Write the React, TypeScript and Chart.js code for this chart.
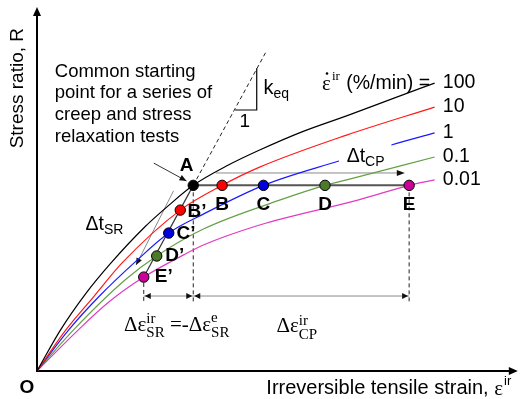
import { useEffect, useRef } from "react";
import { Chart, registerables } from "chart.js";

Chart.register(...registerables);

// Irreversible strain (arbitrary units, 0-100) and stress ratio R along each constant-rate curve
const strainRates = ["100", "10", "1", "0.1", "0.01"];
const rate100 = [[0, 0], [4.9, 0.113], [10.1, 0.212], [15.4, 0.297], [22.2, 0.393], [27.4, 0.455], [32.5, 0.51], [39.7, 0.565], [46.3, 0.607], [55.1, 0.657], [64.8, 0.703], [73.7, 0.747], [82.7, 0.791]];
const rate10 = [[0, 0], [6.0, 0.113], [11.9, 0.206], [17.7, 0.297], [29.8, 0.442], [38.5, 0.51], [46.3, 0.56], [64.4, 0.648], [82.7, 0.725]];
const rate1 = [[0, 0], [6.6, 0.113], [13.0, 0.206], [20.2, 0.297], [27.4, 0.379], [34.6, 0.431], [47.1, 0.51], [62.8, 0.577], [73.7, 0.621], [82.7, 0.654]];
const rate01 = [[0, 0], [7.6, 0.113], [18.3, 0.25], [24.9, 0.316], [34.6, 0.39], [50.6, 0.47], [59.9, 0.51], [64.4, 0.525], [82.7, 0.588]];
const rate001 = [[0, 0], [8.6, 0.113], [15.0, 0.19], [22.2, 0.258], [30.5, 0.319], [34.6, 0.346], [46.3, 0.401], [66.9, 0.47], [77.4, 0.51], [82.7, 0.525]];
const rateCurves = [rate100, rate10, rate1, rate01, rate001];
const curveColors = ["#000000", "#ff1a1a", "#1a1aff", "#63a046", "#e03cc0"];

// Test states: A = common start, B..E = end of creep, B'..E' = end of relaxation
const stateNames = ["A", "B", "C", "D", "E", "B'", "C'", "D'", "E'"];
const stateStrain = [32.5, 38.5, 47.1, 59.9, 77.4, 29.8, 27.4, 24.9, 22.2];
const stateR = [0.51, 0.51, 0.51, 0.51, 0.51, 0.442, 0.379, 0.316, 0.258];
const stateColors = ["#000000", "#ff0000", "#0000dd", "#4a7a2a", "#cc0099", "#ff0000", "#0000dd", "#4a7a2a", "#cc0099"];

// Creep path A -> E and relaxation path E' -> A
const creepPath = [[32.5, 0.51], [77.4, 0.51]];
const relaxPath = [[22.2, 0.258], [32.5, 0.51]];
// Equivalent elastic line through A (slope k_eq)
const keqLine = [[32.5, 0.51], [47.6, 0.876]];

const SANS = "'Liberation Sans', Arial, sans-serif";
const SERIF = "'Liberation Serif', 'Times New Roman', serif";

const toPts = (a: number[][]) => a.map(([x, y]) => ({ x, y }));

function arrowHead(ctx: CanvasRenderingContext2D, x1: number, y1: number, x2: number, y2: number, len = 7, half = 3) {
  const a = Math.atan2(y2 - y1, x2 - x1);
  const c = Math.cos(a), s = Math.sin(a);
  ctx.beginPath();
  ctx.moveTo(x2, y2);
  ctx.lineTo(x2 - len * c + half * s, y2 - len * s - half * c);
  ctx.lineTo(x2 - len * c - half * s, y2 - len * s + half * c);
  ctx.closePath();
  ctx.fill();
}

type Run = { t: string; font: string; dy?: number; sup?: { t: string; font: string; dy: number } };

function drawRuns(ctx: CanvasRenderingContext2D, x: number, y: number, runs: Run[]) {
  ctx.textAlign = "left";
  ctx.textBaseline = "middle";
  let cx = x;
  for (const r of runs) {
    ctx.font = r.font;
    ctx.fillText(r.t, cx, y + (r.dy || 0));
    let w = ctx.measureText(r.t).width;
    if (r.sup) {
      ctx.font = r.sup.font;
      ctx.fillText(r.sup.t, cx, y + r.sup.dy);
      w = Math.max(w, ctx.measureText(r.sup.t).width);
    }
    cx += w;
  }
  return cx;
}

const overlay = {
  id: "overlay",
  beforeDatasetsDraw(chart: any) {
    const ctx: CanvasRenderingContext2D = chart.ctx;
    const X = (v: number) => chart.scales.x.getPixelForValue(v);
    const Y = (v: number) => chart.scales.y.getPixelForValue(v);
    ctx.save();
    // axes
    ctx.strokeStyle = "#000";
    ctx.fillStyle = "#000";
    ctx.lineWidth = 2;
    ctx.beginPath();
    ctx.moveTo(X(0), Y(0) + 1);
    ctx.lineTo(X(0), Y(1) + 6);
    ctx.moveTo(X(0) - 1, Y(0));
    ctx.lineTo(X(100) - 6, Y(0));
    ctx.stroke();
    arrowHead(ctx, X(0), Y(0.5), X(0), Y(1), 9, 4);
    arrowHead(ctx, X(50), Y(0), X(100), Y(0), 9, 4);

    // dashed guide lines
    ctx.lineWidth = 1;
    ctx.strokeStyle = "#222";
    ctx.setLineDash([4, 3]);
    ctx.beginPath();
    ctx.moveTo(X(keqLine[0][0]), Y(keqLine[0][1]));
    ctx.lineTo(X(keqLine[1][0]), Y(keqLine[1][1]));
    ctx.moveTo(X(32.5), Y(0.51));
    ctx.lineTo(X(32.5), Y(0.187));
    ctx.moveTo(X(22.2), Y(0.242));
    ctx.lineTo(X(22.2), Y(0.187));
    ctx.moveTo(X(77.4), Y(0.51));
    ctx.lineTo(X(77.4), Y(0.187));
    ctx.stroke();
    ctx.setLineDash([]);

    // slope triangle
    ctx.lineWidth = 1.2;
    ctx.strokeStyle = "#000";
    ctx.beginPath();
    ctx.moveTo(X(41.2), Y(0.717));
    ctx.lineTo(X(45.7), Y(0.717));
    ctx.lineTo(X(45.7), Y(0.832));
    ctx.stroke();

    // dimension lines for strain increments
    ctx.lineWidth = 1;
    ctx.strokeStyle = "#8a8a8a";
    const dy = Y(0.206);
    ctx.beginPath();
    ctx.moveTo(X(22.2), dy);
    ctx.lineTo(X(77.4), dy);
    ctx.stroke();
    ctx.fillStyle = "#111";
    arrowHead(ctx, X(27), dy, X(22.2) + 1, dy, 6, 3);
    arrowHead(ctx, X(27), dy, X(32.5) - 1, dy, 6, 3);
    arrowHead(ctx, X(50), dy, X(32.5) + 1, dy, 6, 3);
    arrowHead(ctx, X(50), dy, X(77.4) - 1, dy, 6, 3);

    // creep time arrow
    const ty = Y(0.544);
    ctx.beginPath();
    ctx.moveTo(X(37.2), ty);
    ctx.lineTo(X(76.5) - 4, ty);
    ctx.stroke();
    arrowHead(ctx, X(60), ty, X(76.5), ty, 8, 3);

    // relaxation time arrow
    ctx.beginPath();
    ctx.moveTo(X(28.4), Y(0.495));
    ctx.lineTo(X(20.6), Y(0.291));
    ctx.stroke();
    arrowHead(ctx, X(28.4), Y(0.495), X(20.6), Y(0.291), 7, 3);

    // pointer to A
    ctx.strokeStyle = "#333";
    ctx.beginPath();
    ctx.moveTo(X(24.3), Y(0.571));
    ctx.lineTo(X(31.1), Y(0.522));
    ctx.stroke();
    arrowHead(ctx, X(24.3), Y(0.571), X(31.1), Y(0.522), 7, 3);
    ctx.restore();
  },
  afterDatasetsDraw(chart: any) {
    const ctx: CanvasRenderingContext2D = chart.ctx;
    const X = (v: number) => chart.scales.x.getPixelForValue(v);
    const Y = (v: number) => chart.scales.y.getPixelForValue(v);
    ctx.save();

    // white box behind the creep time label
    ctx.fillStyle = "#fff";
    ctx.fillRect(X(62.8), Y(0.635), X(73.7) - X(62.8), Y(0.56) - Y(0.635));

    ctx.fillStyle = "#000";
    const sans = (s: number, b = "") => `${b}${s}px ${SANS}`;
    const serif = (s: number) => `${s}px ${SERIF}`;

    // explanatory text
    const lines = ["Common starting", "point for a series of", "creep and stress", "relaxation tests"];
    const lineY = [0.821, 0.764, 0.703, 0.643];
    ctx.font = sans(18.5);
    ctx.textAlign = "left";
    ctx.textBaseline = "middle";
    lines.forEach((l, i) => ctx.fillText(l, X(3.7), Y(lineY[i])));

    // curve labels
    ctx.font = sans(19.5);
    strainRates.forEach((lab, i) => {
      const c = rateCurves[i];
      ctx.fillText(lab, X(84.4), Y(c[c.length - 1][1]));
    });

    // strain-rate heading
    const hx = X(59.3), hy = Y(0.79);
    ctx.font = serif(21);
    ctx.fillText("\u03b5", hx, hy + 1);
    const ew = ctx.measureText("\u03b5").width;
    ctx.beginPath();
    ctx.arc(hx + ew / 2 + 0.5, hy - 10, 1.3, 0, Math.PI * 2);
    ctx.fill();
    ctx.font = serif(13);
    ctx.fillText("ir", hx + ew + 1, hy - 7);
    ctx.font = sans(19.5);
    ctx.fillText("(%/min) =", X(64.3), hy);

    // k_eq and 1
    drawRuns(ctx, X(47.1), Y(0.777), [
      { t: "k", font: sans(20) },
      { t: "eq", font: sans(14), dy: 6 },
    ]);
    ctx.font = sans(19);
    ctx.textAlign = "center";
    ctx.fillText("1", X(43.2), Y(0.684));

    // point labels
    ctx.font = sans(19, "bold ");
    ctx.textAlign = "center";
    ctx.fillText("A", X(31.1), Y(0.563));
    ["B", "C", "D", "E"].forEach((n, i) => ctx.fillText(n, X(stateStrain[i + 1]), Y(0.456)));
    ctx.fillText("O", X(-2.1), Y(-0.047));
    ctx.textAlign = "left";
    const primeX = [31.3, 29.0, 26.7, 24.5];
    const primeY = [0.437, 0.376, 0.316, 0.258];
    ["B'", "C'", "D'", "E'"].forEach((n, i) => ctx.fillText(n.replace("'", "\u2019"), X(primeX[i]), Y(primeY[i])));

    // time increments
    drawRuns(ctx, X(10.1), Y(0.401), [
      { t: "\u0394t", font: sans(19.5) },
      { t: "SR", font: sans(14), dy: 5 },
    ]);
    drawRuns(ctx, X(64.4), Y(0.588), [
      { t: "\u0394t", font: sans(19.5) },
      { t: "CP", font: sans(14), dy: 5 },
    ]);

    // strain increments
    drawRuns(ctx, X(18.1), Y(0.126), [
      { t: "\u0394\u03b5", font: serif(21) },
      { t: "SR", font: serif(15), dy: 8, sup: { t: "ir", font: serif(15), dy: -6 } },
      { t: " =-\u0394\u03b5", font: serif(21) },
      { t: "SR", font: serif(15), dy: 8, sup: { t: "e", font: serif(15), dy: -7 } },
    ]);
    drawRuns(ctx, X(49.8), Y(0.121), [
      { t: "\u0394\u03b5", font: serif(21) },
      { t: "CP", font: serif(15), dy: 8, sup: { t: "ir", font: serif(15), dy: -6 } },
    ]);

    // axis titles
    const end = drawRuns(ctx, X(47.7), Y(-0.047), [
      { t: "Irreversible tensile strain, ", font: sans(20) },
      { t: "\u03b5", font: serif(21), dy: 1 },
    ]);
    ctx.font = sans(13);
    ctx.fillText("ir", end + 1, Y(-0.047) - 7);

    ctx.translate(X(-3.9), Y(0.777));
    ctx.rotate(-Math.PI / 2);
    ctx.font = sans(19);
    ctx.textAlign = "center";
    ctx.fillText("Stress ratio, R", 0, 0);
    ctx.restore();
  },
};

export default function App() {
  const ref = useRef<HTMLCanvasElement>(null);
  useEffect(() => {
    const curveSets = rateCurves.map((c, i) => ({
      label: strainRates[i],
      data: toPts(c),
      borderColor: curveColors[i],
      borderWidth: 1.2,
      pointRadius: 0,
      fill: false,
      cubicInterpolationMode: "monotone" as const,
      order: 3,
    }));
    const chart = new Chart(ref.current as HTMLCanvasElement, {
      type: "line",
      data: {
        datasets: [
          {
            label: "states",
            data: stateStrain.map((x, i) => ({ x, y: stateR[i] })),
            showLine: false,
            pointRadius: 5.2,
            pointBackgroundColor: stateColors,
            pointBorderColor: "#000",
            pointBorderWidth: 1,
            order: 0,
          },
          {
            label: "creep",
            data: toPts(creepPath),
            borderColor: "#555",
            borderWidth: 2,
            pointRadius: 0,
            order: 1,
          },
          {
            label: "relaxation",
            data: toPts(relaxPath),
            borderColor: "#333",
            borderWidth: 1.2,
            pointRadius: 0,
            order: 1,
          },
          ...curveSets,
        ] as any,
      },
      options: {
        responsive: false,
        animation: false,
        events: [],
        layout: { padding: { left: 37, right: 1, top: 7, bottom: 28 } },
        scales: {
          x: { type: "linear", min: 0, max: 100, display: false },
          y: { type: "linear", min: 0, max: 1, display: false },
        },
        plugins: { legend: { display: false }, tooltip: { enabled: false } },
      },
      plugins: [overlay],
    });
    return () => chart.destroy();
  }, []);
  return (
    <div style={{ position: "fixed", left: 0, top: 0, width: 524, height: 399, background: "#fff" }}>
      <canvas ref={ref} width={524} height={399} style={{ display: "block" }} />
    </div>
  );
}
